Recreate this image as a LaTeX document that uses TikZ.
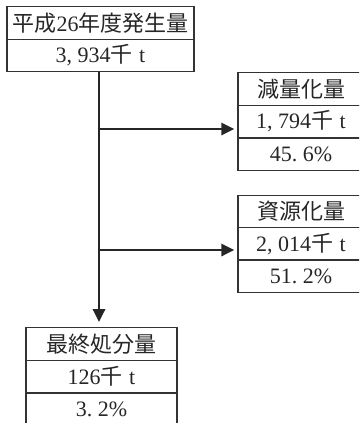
\documentclass[tikz,border=0pt]{standalone}
\usepackage{fontspec}
\setmainfont{Liberation Serif}
\newfontfamily\jp{Noto Sans CJK JP}
\usetikzlibrary{arrows.meta}
\tikzset{
  cell/.style={draw=black!80, line width=1.2pt, inner sep=0pt, text=black!85,
    font=\fontsize{22}{22}\selectfont},
  topcell/.style={cell, minimum width=187pt, minimum height=32.5pt},
  rcell/.style={cell, minimum width=126pt, minimum height=32.5pt},
  botcell/.style={cell, minimum width=151pt, minimum height=32.5pt},
  flow/.style={draw=black!85, line width=2.8pt},
  flowarr/.style={flow, -{Triangle[length=13pt,width=12pt]}}
}
\newcommand{\cm}{,\hspace{0.25em}}
\newcommand{\pd}{.\hspace{0.25em}}
\begin{document}
\begin{tikzpicture}[x=1pt,y=-1pt]
\useasboundingbox (0,0) rectangle (359,423);
\clip (0,0) rectangle (359,423);
% top box
\node[topcell] (t1) at (100.5,23) {{\jp 平成}26{\jp 年度発生量}};
\node[topcell] (t2) at (100.5,55.5) {3\cm934{\jp 千}\hspace{0.3em}t};
% reduction box
\node[rcell] (a1) at (301,89) {\jp 減量化量};
\node[rcell] (a2) at (301,121.5) {1\cm794{\jp 千}\hspace{0.3em}t};
\node[rcell] (a3) at (301,154.5) {45\pd6\%};
% resource box
\node[rcell] (b1) at (301,211.5) {\jp 資源化量};
\node[rcell] (b2) at (301,244) {2\cm014{\jp 千}\hspace{0.3em}t};
\node[rcell] (b3) at (301,276) {51\pd2\%};
% final disposal box
\node[botcell] (c1) at (101.5,344) {\jp 最終処分量};
\node[botcell] (c2) at (101.5,376.5) {126{\jp 千}\hspace{0.3em}t};
\node[botcell] (c3) at (101.5,409.5) {3\pd2\%};
% connectors
\coordinate (s) at (99,72);
\coordinate (j1) at (99,129);
\coordinate (j2) at (99,250);
\draw[flowarr, shorten >=5pt] (s) -- (s |- c1.north);
\draw[flowarr, shorten >=3pt] ([xshift=-1.4pt]j1) -- (j1 -| a2.west);
\draw[flowarr, shorten >=3pt] ([xshift=-1.4pt]j2) -- (j2 -| b2.west);
\end{tikzpicture}
\end{document}
